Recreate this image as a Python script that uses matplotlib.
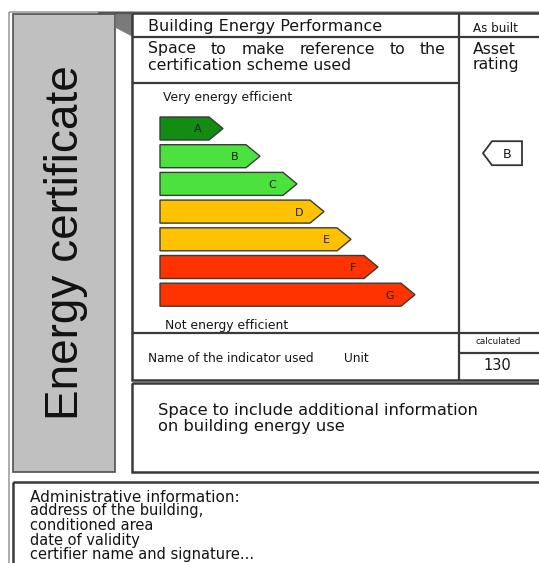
import matplotlib
matplotlib.use("Agg")
import matplotlib.pyplot as plt
from matplotlib.patches import Rectangle, Polygon

# ---------------- data ----------------
classes = ["A", "B", "C", "D", "E", "F", "G"]
bar_lengths = [63, 100, 137, 164, 191, 218, 255]   # arrow length (px) incl. tip
bar_colors = ["#128c12", "#4ce23e", "#4ce23e", "#ffc200", "#ffc200", "#ff3300", "#ff3300"]
rating = "B"
calculated_value = "130"
title_text = "Energy certificate"
header_text = "Building Energy Performance"
scheme_line1 = ["Space", "to", "make", "reference", "to", "the"]
scheme_line2 = "certification scheme used"
as_built = "As built"
asset_rating = ["Asset", "rating"]
top_label = "Very energy efficient"
bottom_label = "Not energy efficient"
indicator_label = "Name of the indicator used"
unit_label = "Unit"
calc_label = "calculated"
extra_info = ["Space to include additional information", "on building energy use"]
admin_info = ["Administrative information:", "address of the building,",
              "conditioned area", "date of validity", "certifier name and signature..."]

W, H = 539, 563
fig = plt.figure(figsize=(W / 100, H / 100), dpi=100)
ax = fig.add_axes([0, 0, 1, 1])
ax.set_xlim(0, W)
ax.set_ylim(H, 0)
ax.axis("off")

LC = "#3a3a3a"
FONT = "DejaVu Sans"
TC = "#151515"

def line(x0, y0, x1, y1, lw=1.6, c=LC):
    ax.plot([x0, x1], [y0, y1], color=c, lw=lw, solid_capstyle="butt")

# outer light frame
ax.add_patch(Rectangle((9, 12), 560, 600, fill=False, ec="#a0a0a0", lw=1.2))

# grey side panel
ax.add_patch(Rectangle((13, 14), 102, 458, fc="#c0c0c0", ec="#505050", lw=1.2))
ax.text(66, 243, title_text, rotation=90, ha="center", va="center",
        fontsize=33, color="#111111", family=["Liberation Sans", "DejaVu Sans"])

# folded corner triangle
ax.add_patch(Polygon([(116, 14), (133, 14), (133, 37), (116, 28)], closed=True,
                     fc="#7a7a7a", ec="none"))
line(98, 13, 133, 13, lw=1.6, c="#555555")

# main upper box
ax.add_patch(Rectangle((132, 13), 430, 367, fill=False, ec=LC, lw=1.8))
line(459, 13, 459, 380)
line(132, 37, 560, 37)
line(132, 83, 459, 83)
line(132, 333, 560, 333)
line(459, 353, 560, 353)

# lower box
ax.add_patch(Rectangle((132, 383), 430, 89, fill=False, ec=LC, lw=1.8))

# admin box
ax.add_patch(Rectangle((13, 482), 560, 100, fill=False, ec=LC, lw=1.8))

# header texts
ax.text(148, 26, header_text, ha="left", va="center", fontsize=11.5, family=FONT, color=TC)
ax.text(473, 28, as_built, ha="left", va="center", fontsize=8.6, family=FONT, color=TC)
ax.text(473, 49, asset_rating[0], ha="left", va="center", fontsize=11.3, family=FONT, color=TC)
ax.text(473, 65, asset_rating[1], ha="left", va="center", fontsize=11.3, family=FONT, color=TC)

# justified first line
word_texts = [ax.text(148, 49, w, ha="left", va="center", fontsize=11.3, family=FONT, color=TC)
              for w in scheme_line1]
fig.canvas.draw()
r = fig.canvas.get_renderer()
widths = [t.get_window_extent(r).width for t in word_texts]
x_left, x_right = 148, 446
gap = (x_right - x_left - sum(widths)) / (len(widths) - 1)
x = x_left
for t, w in zip(word_texts, widths):
    t.set_x(x)
    x += w + gap
ax.text(148, 65, scheme_line2, ha="left", va="center", fontsize=11.3, family=FONT, color=TC)

# scale labels
ax.text(163, 97, top_label, ha="left", va="center", fontsize=8.9, family=FONT, color=TC)
ax.text(165, 326, bottom_label, ha="left", va="center", fontsize=8.9, family=FONT, color=TC)

# class arrows
x0 = 160
row0 = 128.5
step = 27.7
bh = 23
tip = 14
for i, (cls, L, col) in enumerate(zip(classes, bar_lengths, bar_colors)):
    yc = row0 + i * step
    xt = x0 + L
    pts = [(x0, yc - bh / 2), (xt - tip, yc - bh / 2), (xt, yc), (xt - tip, yc + bh / 2), (x0, yc + bh / 2)]
    ax.add_patch(Polygon(pts, closed=True, fc=col, ec="#3a3a3a", lw=1.0))
    ax.text(xt - 25, yc + 1, cls, ha="center", va="center", fontsize=8, family=FONT, color="#222222")

# rating indicator
ri = classes.index(rating)
yr = row0 + ri * step - 3
ax.add_patch(Polygon([(483, yr), (492, yr - 12), (522, yr - 12), (522, yr + 12), (492, yr + 12)],
                     closed=True, fc="white", ec="#333333", lw=1.3))
ax.text(507, yr + 1, rating, ha="center", va="center", fontsize=9, family=FONT, color=TC)

# indicator row
ax.text(148, 359, indicator_label, ha="left", va="center", fontsize=8.7, family=FONT, color=TC)
ax.text(344, 359, unit_label, ha="left", va="center", fontsize=8.7, family=FONT, color=TC)
ax.text(498, 342, calc_label, ha="center", va="center", fontsize=6.3, family=FONT, color=TC)
ax.text(497, 366, calculated_value, ha="center", va="center", fontsize=10.5, family=FONT, color=TC)

# extra info
ax.text(158, 411, extra_info[0], ha="left", va="center", fontsize=11.7, family=FONT, color=TC)
ax.text(158, 426, extra_info[1], ha="left", va="center", fontsize=11.7, family=FONT, color=TC)

# admin info
ys = [497, 511, 526, 540, 555]
for yy, s in zip(ys, admin_info):
    fs = 11 if yy == ys[0] else 10.5
    ax.text(30, yy, s, ha="left", va="center", fontsize=fs, family=FONT, color=TC)

fig.savefig("out.png", dpi=100)
